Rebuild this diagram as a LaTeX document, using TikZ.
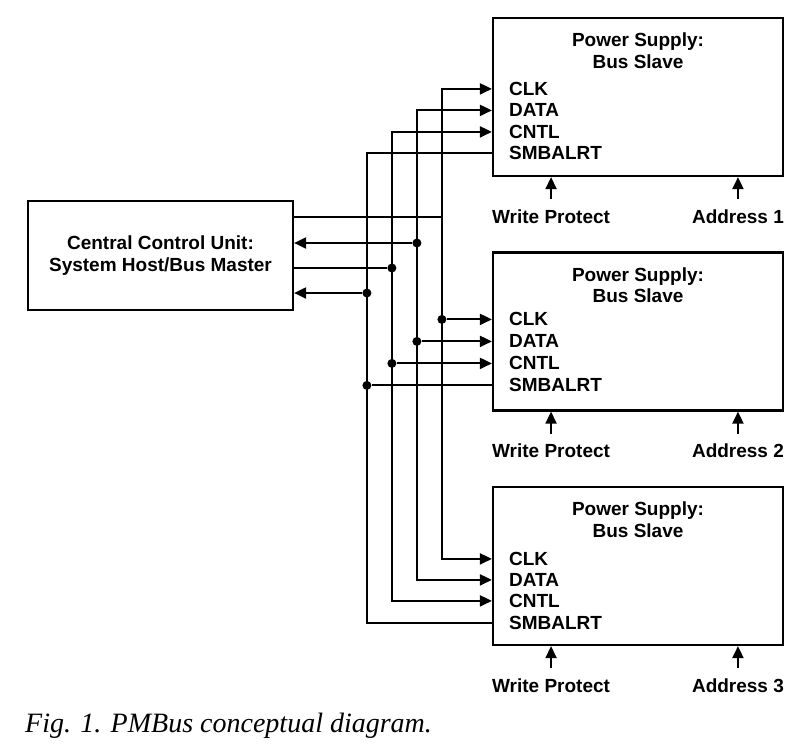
\documentclass[tikz,border=0pt]{standalone}
\usepackage{fontspec}
\setmainfont{Liberation Serif}
\setsansfont{Liberation Sans}
\usepackage{tikz}
\usetikzlibrary{arrows.meta, positioning}
\tikzstyle{psbox} = [rectangle, draw, line width=2.2pt, minimum width=290pt, minimum height=158pt]
\tikzstyle{hostbox} = [rectangle, draw, line width=2.2pt, minimum width=265pt, minimum height=109pt, align=center, font=\sffamily\bfseries\fontsize{19}{21.5}\selectfont]
\tikzstyle{title} = [inner sep=0pt, align=center, font=\sffamily\bfseries\fontsize{19}{21.5}\selectfont]
\tikzstyle{pinlabel} = [inner sep=0pt, anchor=west, font=\sffamily\bfseries\fontsize{19}{21.5}\selectfont]
\tikzstyle{siglabel} = [inner xsep=0pt, inner ysep=10pt, font=\sffamily\bfseries\fontsize{19}{21.5}\selectfont]
\tikzstyle{wire} = [line width=2pt]
\tikzstyle{arrow} = [line width=2pt, -{Triangle[length=12pt, width=11pt]}]
\tikzstyle{busline} = [line width=2pt, {Triangle[length=12pt, width=11pt]}-{Triangle[length=12pt, width=11pt]}]
\tikzstyle{dot} = [circle, fill, inner sep=0pt, minimum size=9pt]

\begin{document}
\begin{tikzpicture}[x=1pt, y=-1pt]
    \useasboundingbox (0,0) rectangle (802,745);

    % Host
    \node[hostbox] (host) at (160.5,255.5) {Central Control Unit:\\System Host/Bus Master};

    % Power supplies
    \node[psbox] (ps1) at (638,97) {};
    \node[psbox, below=74.3pt of ps1] (ps2) {};
    \node[psbox, below=74.3pt of ps2] (ps3) {};

    \node[title, anchor=north] (t1) at ([yshift=-16pt]ps1.north) {Power Supply:\\Bus Slave};
    \node[title, anchor=north] (t2) at ([yshift=-16pt]ps2.north) {Power Supply:\\Bus Slave};
    \node[title, anchor=north] (t3) at ([yshift=-16pt]ps3.north) {Power Supply:\\Bus Slave};

    % Pins
    \node[pinlabel] (clk1) at ([xshift=17pt, yshift=-72pt]ps1.north west) {CLK};
    \node[pinlabel] (data1) at ([xshift=17pt, yshift=-93.5pt]ps1.north west) {DATA};
    \node[pinlabel] (cntl1) at ([xshift=17pt, yshift=-115pt]ps1.north west) {CNTL};
    \node[pinlabel] (alrt1) at ([xshift=17pt, yshift=-136.5pt]ps1.north west) {SMBALRT};
    \node[pinlabel] (clk2) at ([xshift=17pt, yshift=-68pt]ps2.north west) {CLK};
    \node[pinlabel] (data2) at ([xshift=17pt, yshift=-90pt]ps2.north west) {DATA};
    \node[pinlabel] (cntl2) at ([xshift=17pt, yshift=-112pt]ps2.north west) {CNTL};
    \node[pinlabel] (alrt2) at ([xshift=17pt, yshift=-134pt]ps2.north west) {SMBALRT};
    \node[pinlabel] (clk3) at ([xshift=17pt, yshift=-73pt]ps3.north west) {CLK};
    \node[pinlabel] (data3) at ([xshift=17pt, yshift=-94pt]ps3.north west) {DATA};
    \node[pinlabel] (cntl3) at ([xshift=17pt, yshift=-115pt]ps3.north west) {CNTL};
    \node[pinlabel] (alrt3) at ([xshift=17pt, yshift=-137pt]ps3.north west) {SMBALRT};

    % Write Protect / Address
    \node[siglabel, anchor=north west] (wp1) at ([yshift=-22pt]ps1.south west) {Write Protect};
    \node[siglabel, anchor=north east] (ad1) at ([yshift=-22pt]ps1.south east) {Address 1};
    \node[siglabel, anchor=north west] (wp2) at ([yshift=-22pt]ps2.south west) {Write Protect};
    \node[siglabel, anchor=north east] (ad2) at ([yshift=-22pt]ps2.south east) {Address 2};
    \node[siglabel, anchor=north west] (wp3) at ([yshift=-22pt]ps3.south west) {Write Protect};
    \node[siglabel, anchor=north east] (ad3) at ([yshift=-22pt]ps3.south east) {Address 3};
    \draw[arrow] (wp1.north) -- (wp1.north |- ps1.south);
    \draw[arrow] (ad1.north) -- (ad1.north |- ps1.south);
    \draw[arrow] (wp2.north) -- (wp2.north |- ps2.south);
    \draw[arrow] (ad2.north) -- (ad2.north |- ps2.south);
    \draw[arrow] (wp3.north) -- (wp3.north |- ps3.south);
    \draw[arrow] (ad3.north) -- (ad3.north |- ps3.south);

    % Bus columns and host ports
    \coordinate (busclk) at ([xshift=-50pt]ps1.west);
    \coordinate (busdata) at ([xshift=-75pt]ps1.west);
    \coordinate (buscntl) at ([xshift=-100pt]ps1.west);
    \coordinate (busalrt) at ([xshift=-125pt]ps1.west);
    \coordinate (hclk) at ([yshift=38.5pt]host.east);
    \coordinate (hdata) at ([yshift=12.5pt]host.east);
    \coordinate (hcntl) at ([yshift=-12.5pt]host.east);
    \coordinate (halrt) at ([yshift=-37.5pt]host.east);

    % Bus lines
    \draw[busline] (clk1 -| ps1.west) -- (clk1 -| busclk) -- (clk3 -| busclk) -- (clk3 -| ps3.west);
    \draw[busline] (data1 -| ps1.west) -- (data1 -| busdata) -- (data3 -| busdata) -- (data3 -| ps3.west);
    \draw[busline] (cntl1 -| ps1.west) -- (cntl1 -| buscntl) -- (cntl3 -| buscntl) -- (cntl3 -| ps3.west);
    \draw[wire] (alrt1 -| ps1.west) -- (alrt1 -| busalrt) -- (alrt3 -| busalrt) -- (alrt3 -| ps3.west);

    % Taps to second supply
    \node[dot] (jclk2) at (clk2 -| busclk) {};
    \node[dot] (jdata2) at (data2 -| busdata) {};
    \node[dot] (jcntl2) at (cntl2 -| buscntl) {};
    \node[dot] (jalrt2) at (alrt2 -| busalrt) {};
    \draw[arrow] (jclk2) -- (clk2 -| ps2.west);
    \draw[arrow] (jdata2) -- (data2 -| ps2.west);
    \draw[arrow] (jcntl2) -- (cntl2 -| ps2.west);
    \draw[wire] (jalrt2) -- (alrt2 -| ps2.west);

    % Taps to host
    \node[dot] (jdatah) at (hdata -| busdata) {};
    \node[dot] (jcntlh) at (hcntl -| buscntl) {};
    \node[dot] (jalrth) at (halrt -| busalrt) {};
    \draw[wire] (hclk) -- (hclk -| busclk);
    \draw[arrow] (jdatah) -- (hdata);
    \draw[wire] (jcntlh) -- (hcntl);
    \draw[arrow] (jalrth) -- (halrt);

    % Caption
    \node[anchor=base west, inner sep=0pt, font=\itshape\fontsize{28}{30}\selectfont] (caption) at (25,732) {Fig. 1. PMBus conceptual diagram.};
\end{tikzpicture}
\end{document}
